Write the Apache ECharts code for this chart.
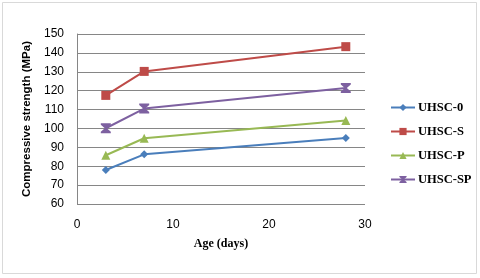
<!DOCTYPE html>
<html><head><meta charset="utf-8">
<script src="https://cdn.jsdelivr.net/npm/echarts@6/dist/echarts.min.js"></script>
<style>html,body{margin:0;padding:0;background:#fff}#c{width:480px;height:278px}</style>
</head><body><div id="c"></div>
<script>
var ages = [3, 7, 28];
var seriesNames = ['UHSC-0', 'UHSC-S', 'UHSC-P', 'UHSC-SP'];
var uhsc0 = [78, 86.3, 95];
var uhscS = [117.5, 130.2, 143.3];
var uhscP = [85.8, 94.8, 104.2];
var uhscSP = [100.1, 110.5, 121.4];
var xTitle = 'Age (days)';
var yTitle = 'Compressive strength (MPa)';

var colors = ['#4A7EBB', '#BE4B48', '#98B954', '#7D60A0'];
var symbols = ['diamond', 'rect', 'triangle', 'path://M0,0 L10,0 L10,1.5 L6,5 L10,8.5 L10,10 L0,10 L0,8.5 L4,5 L0,1.5 Z'];
var sizes = [8, 9, 9, 10];
var vals = [uhsc0, uhscS, uhscP, uhscSP];

function pairs(v){ return ages.map(function(a,i){return [a, v[i]];}); }

var chart = echarts.init(document.getElementById('c'), null, {renderer:'canvas'});
chart.setOption({
  animation: false,
  backgroundColor: '#fff',
  graphic: [{type:'rect', shape:{x:2.5,y:2.5,width:474,height:271}, style:{fill:'none', stroke:'#d9d9d9', lineWidth:1}}],
  grid: {left:77, right:115, top:34, bottom:74},
  xAxis: {
    type:'value', min:0, max:30, interval:10,
    name: xTitle, nameLocation:'middle', nameGap:34,
    nameTextStyle:{fontFamily:'Liberation Serif', fontWeight:'bold', fontSize:12, color:'#000'},
    axisLine:{show:false}, axisTick:{show:false}, splitLine:{show:false},
    axisLabel:{fontFamily:'Liberation Sans', fontSize:12, color:'#000', margin:15}
  },
  yAxis: {
    type:'value', min:60, max:150, interval:10,
    name: yTitle, nameLocation:'middle', nameGap:40,
    nameTextStyle:{fontFamily:'Liberation Sans', fontWeight:'bold', fontSize:11.5, color:'#000'},
    axisLine:{show:true, lineStyle:{color:'#868686'}}, axisTick:{show:false},
    splitLine:{lineStyle:{color:'#868686', width:1}},
    axisLabel:{fontFamily:'Liberation Sans', fontSize:12, color:'#000', margin:13}
  },
  legend: {
    orient:'vertical', left:385, top:96, itemWidth:24, itemHeight:9, itemGap:11,
    textStyle:{fontFamily:'Liberation Serif', fontWeight:'bold', fontSize:12.5, color:'#000', padding:[0,0,0,-2]},
    data: seriesNames
  },
  series: seriesNames.map(function(n,i){
    return {name:n, type:'line', data:pairs(vals[i]), symbol:symbols[i], symbolSize:sizes[i],
      color:colors[i], lineStyle:{width:2, color:colors[i]}, itemStyle:{color:colors[i]}};
  })
});
</script></body></html>
